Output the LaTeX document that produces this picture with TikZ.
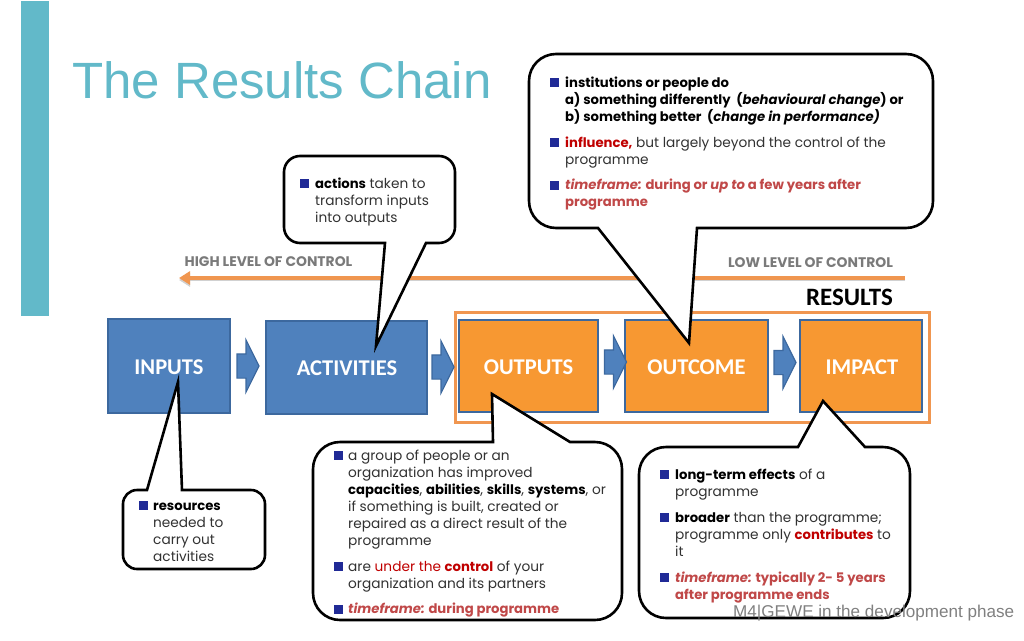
\documentclass[tikz,border=0pt]{standalone}
\usepackage{fontspec}
\setmainfont{Poppins}
\newfontfamily\arialfont{Liberation Sans}
\newfontfamily\labelfont{Carlito}
\usetikzlibrary{arrows.meta, shapes.arrows}
\definecolor{teal}{RGB}{98, 185, 201}
\definecolor{boxblue}{RGB}{79, 129, 189}
\definecolor{edgeblue}{RGB}{60, 104, 158}
\definecolor{boxorange}{RGB}{247, 152, 50}
\definecolor{lineorange}{RGB}{240, 150, 80}
\definecolor{bulletblue}{RGB}{32, 42, 150}
\definecolor{keyred}{RGB}{192, 0, 0}
\definecolor{timered}{RGB}{192, 72, 72}
\definecolor{bodygrey}{RGB}{50, 50, 50}
\tikzset{
  stagebox/.style={draw=edgeblue, line width=2.6pt, text=white, font=\labelfont\bfseries\fontsize{22.5}{26}\selectfont},
  flowarrow/.style={single arrow, draw=edgeblue, line width=1.2pt, fill=boxblue, inner sep=0pt,
    minimum height=22pt, single arrow head extend=14pt, single arrow head indent=0pt, single arrow tip angle=127},
  bubble/.style={draw=black, fill=white, line width=2.6pt, line join=miter},
  bubbletext/.style={anchor=north west, inner sep=0pt, align=left, text=bodygrey,
    font=\fontsize{13.7}{17}\selectfont},
  boldtext/.style={font=\bfseries\fontsize{13.2}{17}\selectfont},
  bulletmark/.style={fill=bulletblue, inner sep=0pt, minimum size=9pt},
  controltext/.style={text=black!52, inner sep=0pt, font=\bfseries\fontsize{13.9}{15}\selectfont}
}
\newcommand{\keyword}[1]{\textcolor{black}{\bfseries\fontsize{13.2}{17}\selectfont #1}}
\newcommand{\redword}[1]{\textcolor{keyred}{\bfseries\fontsize{13.2}{17}\selectfont #1}}
\begin{document}
\begin{tikzpicture}[x=1pt, y=-1pt]
  \useasboundingbox (0, 0) rectangle (1024, 640);

  \fill[teal] (21, 1) rectangle (49, 316);
  \node[text=teal, anchor=base west, inner sep=0pt, font=\arialfont\fontsize{51}{60}\selectfont] (title) at (72, 98) {The Results Chain};

  \coordinate (lowend) at (905, 278);
  \coordinate (highend) at (179, 278);
  \draw[line width=4.5pt, lineorange, -{Triangle[width=13pt,length=11pt]},
    preaction={draw=black!18, transform canvas={yshift=-2pt}}] (lowend) -- (highend);
  \node[controltext] (high) at (268.5, 262) {HIGH LEVEL OF CONTROL};
  \node[controltext] (low) at (810.5, 263) {LOW LEVEL OF CONTROL};
  \node[inner sep=0pt, font=\labelfont\bfseries\fontsize{25}{28}\selectfont] (results) at (849.5, 297) {RESULTS};

  \draw[lineorange, line width=3pt] (455, 312.5) rectangle (929, 422);

  \path[stagebox, fill=boxblue] (108, 319) rectangle (230, 413);
  \path[stagebox, fill=boxblue] (266, 321) rectangle (427, 414);
  \path[stagebox, fill=boxorange] (459, 320) rectangle (598, 412);
  \path[stagebox, fill=boxorange] (625, 320) rectangle (768, 412);
  \path[stagebox, fill=boxorange] (800, 320) rectangle (922, 412);
  \node[stagebox, draw=none] (inputs) at (169, 367) {INPUTS};
  \node[stagebox, draw=none] (activities) at (347, 368.5) {ACTIVITIES};
  \node[stagebox, draw=none] (outputs) at (528.5, 367) {OUTPUTS};
  \node[stagebox, draw=none] (outcome) at (696.5, 367) {OUTCOME};
  \node[stagebox, draw=none] (impact) at (862, 367) {IMPACT};

  \node[flowarrow] (arrowa) at (245, 366) {\rule{0pt}{23pt}};
  \node[flowarrow] (arrowb) at (440, 367) {\rule{0pt}{23pt}};
  \node[flowarrow] (arrowc) at (612.5, 362) {\rule{0pt}{23pt}};
  \node[flowarrow] (arrowd) at (782, 362.5) {\rule{0pt}{23pt}};

  \draw[bubble] (426, 243) [rounded corners=16pt] -- (455, 243) -- (455, 156) -- (284, 156) -- (284, 243) [sharp corners] -- (385, 243) -- (376, 346) -- cycle;
  \draw[bubble] (697, 228) [rounded corners=27pt] -- (933, 228) -- (933, 54) -- (529, 54) -- (529, 228) [sharp corners] -- (598, 228) -- (689, 343) -- cycle;
  \draw[bubble] (570, 442) [rounded corners=27pt] -- (622, 442) -- (622, 620) -- (313, 620) -- (313, 442) [sharp corners] -- (493, 442) -- (492, 394) -- cycle;
  \draw[bubble] (865, 447) [rounded corners=27pt] -- (910, 447) -- (910, 618) -- (639, 618) -- (639, 447) [sharp corners] -- (798, 447) -- (823, 401) -- cycle;
  \draw[bubble] (182, 490) [rounded corners=14pt] -- (265, 490) -- (265, 569) -- (123, 569) -- (123, 490) [sharp corners] -- (147, 490) -- (178, 382) -- cycle;

  \foreach \px/\py [count=\i] in {304.5/183, 554.5/82, 554.5/142, 554.5/185, 338/455, 338/566, 338/609, 664.5/474, 664.5/517, 664.5/577, 143/505}
    \node[bulletmark] (bullet\i) at (\px, \py) {};

  \node[bubbletext] (actions) at (315, 178) {\keyword{actions} taken to\\transform inputs\\into outputs};
  \node[bubbletext, text=black, boldtext] (change) at (565, 77) {institutions or people do\\a) something differently\ \ (\textit{behavioural change}) or\\b) something better\ \ (\textit{change in performance)}};
  \node[bubbletext] (influence) at (565, 137) {\redword{influence,} but largely beyond the control of the\\programme};
  \node[bubbletext, text=timered, boldtext] (frametop) at (565, 179) {\textit{timeframe:} during or \textit{up to} a few years after\\programme};
  \node[bubbletext] (group) at (348, 450) {a group of people or an\\organization has improved\\\keyword{capacities}, \keyword{abilities}, \keyword{skills}, \keyword{systems}, or\\if something is built, created or\\repaired as a direct result of the\\programme};
  \node[bubbletext] (control) at (348, 561) {are \textcolor{keyred}{under the} \redword{control} of your\\organization and its partners};
  \node[bubbletext, text=timered, boldtext] (framemid) at (348, 603) {\textit{timeframe:} during programme};
  \node[bubbletext] (effects) at (675, 469) {\keyword{long-term effects} of a\\programme};
  \node[bubbletext] (broader) at (675, 512) {\keyword{broader} than the programme;\\programme only \redword{contributes} to\\it};
  \node[bubbletext, text=timered, boldtext] (framelow) at (675, 572) {\textit{timeframe:} typically 2- 5 years\\after programme ends};
  \node[bubbletext] (resources) at (153, 503) {\keyword{resources}\\needed to\\carry out\\activities};

  \node[anchor=base west, inner sep=0pt, text=black!50, font=\arialfont\fontsize{17.1}{20}\selectfont] (footer) at (733, 617) {M4|GEWE in the development phase};
\end{tikzpicture}
\end{document}
